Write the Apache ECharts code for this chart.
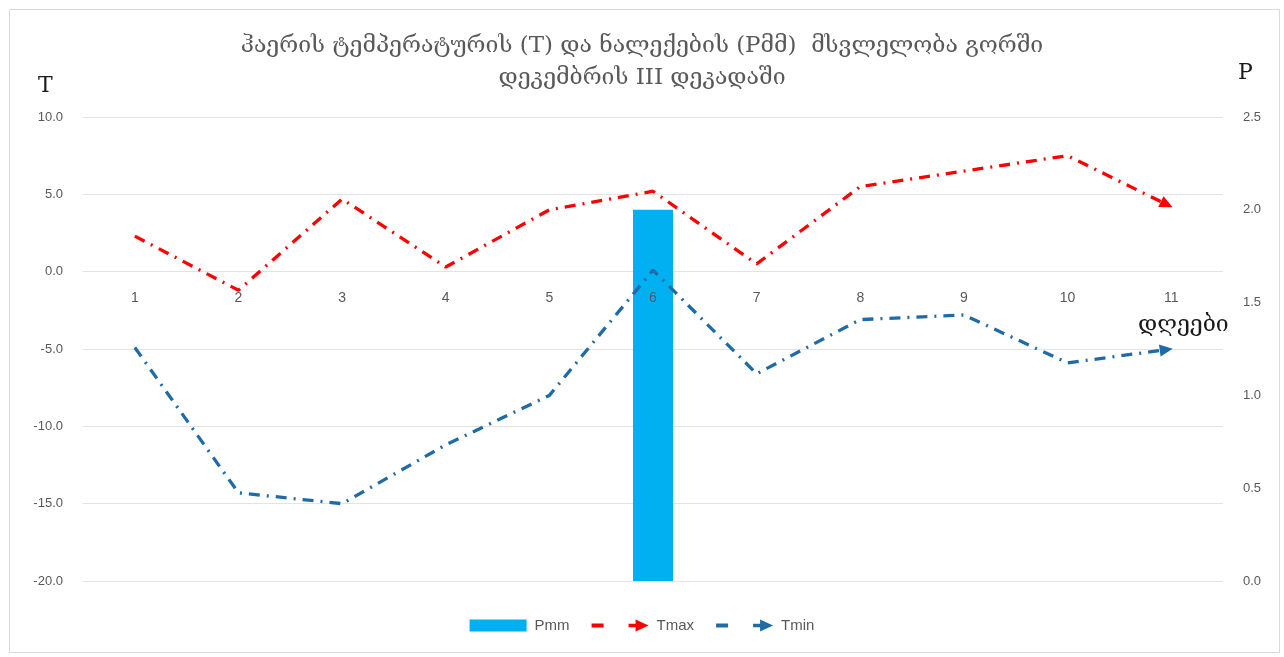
<!DOCTYPE html>
<html>
<head>
<meta charset="utf-8">
<script src="https://cdn.jsdelivr.net/npm/echarts@6/dist/echarts.min.js"></script>
<style>
html,body{margin:0;padding:0;background:#fff;}
#chart{width:1284px;height:657px;}
</style>
</head>
<body>
<div id="chart"></div>
<script>
const days = ['1','2','3','4','5','6','7','8','9','10','11'];
const tmax = [2.3, -1.2, 4.7, 0.3, 4.0, 5.2, 0.5, 5.5, 6.5, 7.5, 4.2];
const tmin = [-4.9, -14.3, -15.0, -11.2, -8.0, 0.1, -6.6, -3.1, -2.8, -5.9, -5.0];
const pmm = [0, 0, 0, 0, 0, 2.0, 0, 0, 0, 0, 0];
const tTicks = {min: -20, max: 10, interval: 5};
const pTicks = {min: 0, max: 2.5, interval: 0.5};

const titleText = 'ჰაერის ტემპერატურის (T) და ნალექების (Pმმ)  მსვლელობა გორში\nდეკემბრის III დეკადაში';
const geoFont = '"DejaVu Serif", "DejaVu Sans", serif';
const labFont = '"Liberation Sans", "Open Sans", sans-serif';
const grey = '#595959';
const redC = '#FF0000';
const blueC = '#1F6BA5';
const barC = '#00B0F0';
const dashDot = [11, 7, 2, 7];
const legendIcon = 'path://M0,4 L12,4 L12,8 L0,8 Z M37,4.2 L44,4.2 L44,0 L57,6 L44,12 L44,7.8 L37,7.8 Z';

const gridTop = 117, gridBottom = 76, chartH = 657;
const gridH = chartH - gridTop - gridBottom;
// place the category axis labels where T = 0 (as in the reference)
const zeroFromBottom = gridH * (0 - tTicks.min) / (tTicks.max - tTicks.min);

const chart = echarts.init(document.getElementById('chart'), null, {renderer: 'canvas'});

function lineData(vals) {
  return vals.map(v => ({value: v}));
}

const option = {
  backgroundColor: '#fff',
  animation: false,
  title: {
    text: titleText,
    left: 'center',
    top: 25,
    textStyle: {fontFamily: geoFont, fontSize: 23, fontWeight: 'normal', color: grey, lineHeight: 32}
  },
  legend: {
    bottom: 19,
    left: 'center',
    itemGap: 22,
    textStyle: {fontFamily: labFont, fontSize: 15, color: grey, padding: [0, 0, 0, 3]},
    data: [
      {name: 'Pmm', icon: 'rect', itemWidth: 55, itemHeight: 9},
      {name: 'Tmax', icon: legendIcon},
      {name: 'Tmin', icon: legendIcon}
    ],
    itemWidth: 57,
    itemHeight: 12
  },
  grid: {left: 83, right: 61, top: gridTop, bottom: gridBottom, containLabel: false},
  xAxis: {
    type: 'category',
    data: days,
    boundaryGap: true,
    position: 'bottom',
    offset: -zeroFromBottom,
    z: 10,
    axisLine: {show: false, onZero: false},
    axisTick: {show: false},
    axisLabel: {fontFamily: labFont, fontSize: 14, color: grey, margin: 19}
  },
  yAxis: [
    {
      type: 'value',
      min: tTicks.min, max: tTicks.max, interval: tTicks.interval,
      axisLine: {show: false},
      axisTick: {show: false},
      splitLine: {lineStyle: {color: '#E3E3E3', width: 1}},
      axisLabel: {fontFamily: labFont, fontSize: 13, color: grey, margin: 20, formatter: v => v.toFixed(1)}
    },
    {
      type: 'value',
      min: pTicks.min, max: pTicks.max, interval: pTicks.interval,
      axisLine: {show: false},
      axisTick: {show: false},
      splitLine: {show: false},
      axisLabel: {fontFamily: labFont, fontSize: 13, color: grey, margin: 20, formatter: v => v.toFixed(1)}
    }
  ],
  series: [
    {
      name: 'Pmm',
      type: 'bar',
      yAxisIndex: 1,
      data: pmm,
      barWidth: 40,
      itemStyle: {color: barC},
      z: 1
    },
    {
      name: 'Tmax',
      type: 'line',
      yAxisIndex: 0,
      data: lineData(tmax),
      symbol: 'none',
      itemStyle: {color: redC},
      lineStyle: {color: redC, width: 3.3, type: dashDot, cap: 'butt'},
      z: 3
    },
    {
      name: 'Tmin',
      type: 'line',
      yAxisIndex: 0,
      data: lineData(tmin),
      symbol: 'none',
      itemStyle: {color: blueC},
      lineStyle: {color: blueC, width: 3.3, type: dashDot, cap: 'butt'},
      z: 3
    }
  ],
  graphic: [
    {type: 'rect', left: 7, top: 7, shape: {width: 1270, height: 643}, style: {fill: 'none', stroke: '#D9D9D9', lineWidth: 1}, silent: true, z: -1},
    {type: 'text', left: 38, top: 75, style: {text: 'T', font: '22px "DejaVu Serif", serif', fill: '#1a1a1a'}},
    {type: 'text', left: 1238, top: 62, style: {text: 'P', font: '22px "DejaVu Serif", serif', fill: '#1a1a1a'}},
    {type: 'text', left: 1138, top: 314, style: {text: 'დღეები', font: '23px "DejaVu Serif", "DejaVu Sans", serif', fill: '#1a1a1a'}}
  ]
};

chart.setOption(option);

function addArrow(seriesIdx, vals) {
  const n = vals.length;
  const p1 = chart.convertToPixel({xAxisIndex: 0, yAxisIndex: 0}, [n - 2, vals[n - 2]]);
  const p2 = chart.convertToPixel({xAxisIndex: 0, yAxisIndex: 0}, [n - 1, vals[n - 1]]);
  const dx = p2[0] - p1[0], dy = p2[1] - p1[1];
  const len = Math.sqrt(dx * dx + dy * dy);
  const ux = dx / len, uy = dy / len;
  const ang = Math.atan2(-dy, dx) * 180 / Math.PI;
  const data = lineData(vals);
  data[n - 1] = {
    value: vals[n - 1],
    symbol: 'triangle',
    symbolSize: [12, 13],
    symbolRotate: ang - 90,
    symbolOffset: [-ux * 5, -uy * 5],
    itemStyle: {color: option.series[seriesIdx].itemStyle.color}
  };
  return data;
}

chart.setOption({
  series: [
    {},
    {data: addArrow(1, tmax), showSymbol: true, symbol: 'none'},
    {data: addArrow(2, tmin), showSymbol: true, symbol: 'none'}
  ]
});
</script>
</body>
</html>
